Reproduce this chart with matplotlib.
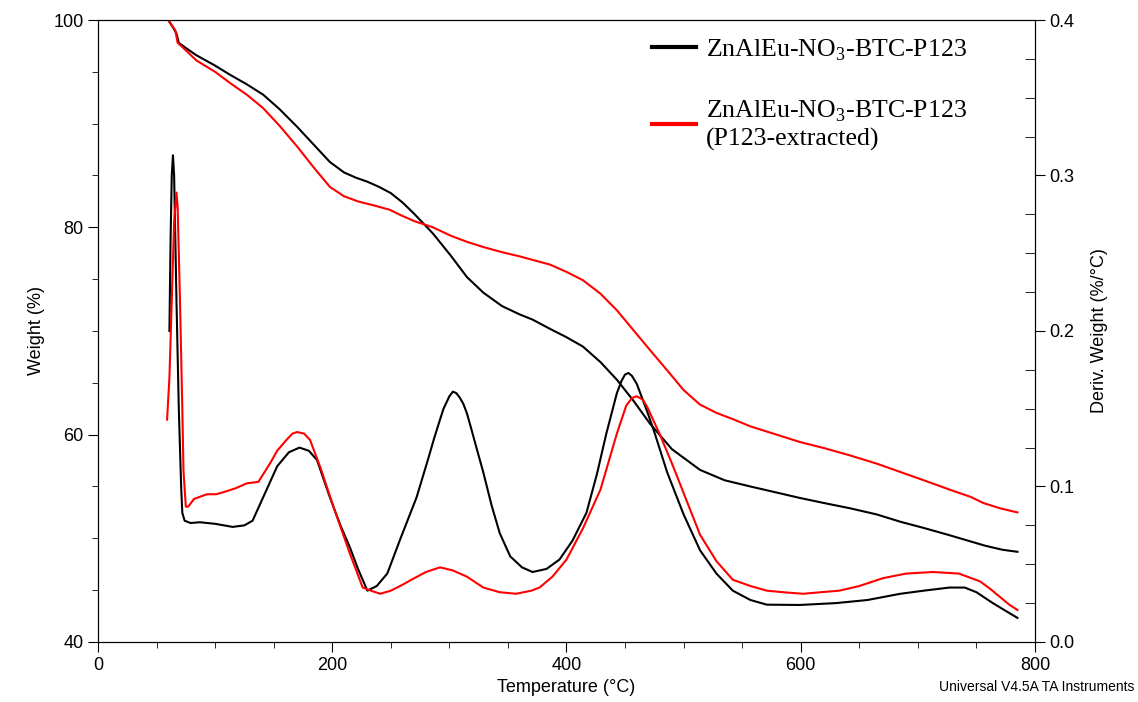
# TGA / DTG curves
import numpy as np
import matplotlib.pyplot as plt
from matplotlib.ticker import MultipleLocator

# Weight (%) curves
t_w_black = [56, 60, 64, 67, 69, 75, 84, 100, 113, 127, 141, 155, 170, 184, 198, 210, 220, 230, 240, 250,
             260, 270, 286, 301, 315, 329, 345, 360, 371, 386, 400, 414, 429, 443, 457, 471, 490, 514, 535,
             557, 580, 599, 620, 642, 665, 685, 705, 727, 745, 757, 772, 785]
w_black = [100.4, 100.0, 99.3, 98.7, 97.8, 97.3, 96.6, 95.6, 94.7, 93.8, 92.8, 91.4, 89.7, 88.0, 86.3, 85.3,
           84.8, 84.4, 83.9, 83.3, 82.4, 81.3, 79.4, 77.3, 75.2, 73.7, 72.4, 71.6, 71.1, 70.2, 69.4, 68.5,
           67.0, 65.3, 63.3, 61.1, 58.6, 56.6, 55.6, 55.0, 54.4, 53.9, 53.4, 52.9, 52.3, 51.6, 51.0, 50.3,
           49.7, 49.3, 48.9, 48.7]

t_w_red = [56, 60, 63, 66, 68, 72, 84, 100, 113, 127, 141, 155, 170, 184, 198, 210, 222, 236, 249, 258,
           270, 286, 301, 315, 329, 345, 360, 373, 386, 400, 414, 429, 443, 457, 471, 486, 500, 514, 528,
           542, 557, 571, 585, 599, 620, 642, 665, 685, 705, 727, 745, 756, 770, 785]
w_red = [100.4, 100.0, 99.5, 99.0, 97.8, 97.4, 96.1, 95.0, 93.9, 92.8, 91.5, 89.8, 87.8, 85.8, 83.9, 83.0,
         82.5, 82.1, 81.7, 81.2, 80.6, 80.0, 79.2, 78.6, 78.1, 77.6, 77.2, 76.8, 76.4, 75.7, 74.9, 73.6,
         72.0, 70.1, 68.2, 66.2, 64.3, 62.9, 62.1, 61.5, 60.8, 60.3, 59.8, 59.3, 58.7, 58.0, 57.2, 56.4,
         55.6, 54.7, 54.0, 53.4, 52.9, 52.5]

# Deriv. weight (%/°C) curves
t_d_black = [61, 62, 63, 64, 65, 67, 69, 71, 72, 74, 79, 87, 100, 115, 125, 132, 141, 153, 163, 172, 180,
             187, 198, 207, 215, 222, 230, 238, 247, 258, 272, 282, 287, 292, 295, 300, 303, 306, 309, 312,
             315, 318, 322, 329, 336, 343, 352, 362, 371, 383, 394, 405, 417, 426, 434, 443, 447, 450, 453,
             456, 460, 463, 469, 475, 486, 500, 514, 528, 542, 557, 571, 599, 630, 657, 685, 705, 727, 740,
             750, 764, 775, 785]
d_black = [0.200, 0.260, 0.300, 0.313, 0.300, 0.220, 0.150, 0.100, 0.083, 0.078, 0.0765, 0.077, 0.076,
           0.074, 0.075, 0.078, 0.093, 0.113, 0.122, 0.125, 0.123, 0.117, 0.093, 0.075, 0.061, 0.047, 0.033,
           0.036, 0.044, 0.066, 0.093, 0.118, 0.131, 0.143, 0.150, 0.158, 0.161, 0.160, 0.157, 0.153, 0.147,
           0.139, 0.128, 0.109, 0.088, 0.070, 0.055, 0.048, 0.045, 0.047, 0.053, 0.065, 0.083, 0.108, 0.134,
           0.160, 0.168, 0.172, 0.173, 0.171, 0.166, 0.160, 0.148, 0.135, 0.109, 0.082, 0.059, 0.044, 0.033,
           0.027, 0.024, 0.0238, 0.025, 0.027, 0.031, 0.033, 0.035, 0.035, 0.032, 0.025, 0.020, 0.0155]

t_d_red = [59, 61, 63, 65, 67, 68, 70, 72, 73, 75, 77, 82, 93, 101, 110, 118, 127, 137, 147, 153, 161, 166,
           170, 176, 181, 190, 201, 208, 215, 221, 226, 233, 241, 250, 258, 270, 280, 292, 303, 315, 329,
           343, 357, 370, 377, 388, 400, 414, 429, 443, 451, 456, 460, 465, 469, 480, 491, 503, 514, 528,
           542, 557, 571, 585, 602, 617, 633, 650, 670, 690, 713, 735, 753, 762, 770, 778, 785]
d_red = [0.143, 0.170, 0.220, 0.270, 0.289, 0.280, 0.220, 0.150, 0.110, 0.087, 0.087, 0.092, 0.095, 0.095,
         0.097, 0.099, 0.102, 0.103, 0.115, 0.123, 0.130, 0.134, 0.135, 0.134, 0.130, 0.112, 0.087, 0.072,
         0.057, 0.045, 0.035, 0.033, 0.031, 0.033, 0.036, 0.041, 0.045, 0.048, 0.046, 0.042, 0.035, 0.032,
         0.031, 0.033, 0.035, 0.042, 0.053, 0.073, 0.098, 0.134, 0.152, 0.157, 0.158, 0.156, 0.151, 0.133,
         0.113, 0.090, 0.069, 0.052, 0.040, 0.036, 0.033, 0.032, 0.031, 0.032, 0.033, 0.036, 0.041, 0.044,
         0.045, 0.044, 0.039, 0.034, 0.029, 0.024, 0.0206]

label_1 = 'ZnAlEu-NO$_3$-BTC-P123'
label_2 = 'ZnAlEu-NO$_3$-BTC-P123\n(P123-extracted)'

plt.rcParams['font.family'] = 'Liberation Sans'
plt.rcParams['mathtext.fontset'] = 'custom'
plt.rcParams['mathtext.rm'] = 'Liberation Serif'

fig = plt.figure(figsize=(11.38, 7.02), dpi=100)
ax = fig.add_axes([0.0861, 0.0855, 0.8234, 0.886])
ax2 = ax.twinx()

ax.plot(t_w_black, w_black, color='black', lw=1.5, label=label_1)
ax.plot(t_w_red, w_red, color='red', lw=1.5, label=label_2)
ax2.plot(t_d_black, d_black, color='black', lw=1.5)
ax2.plot(t_d_red, d_red, color='red', lw=1.5)

ax.set_xlim(0, 800)
ax.set_ylim(40, 100)
ax2.set_ylim(0, 0.4)

ax.xaxis.set_major_locator(MultipleLocator(200))
ax.xaxis.set_minor_locator(MultipleLocator(50))
ax.yaxis.set_major_locator(MultipleLocator(20))
ax.yaxis.set_minor_locator(MultipleLocator(5))
ax2.yaxis.set_major_locator(MultipleLocator(0.1))
ax2.yaxis.set_minor_locator(MultipleLocator(0.025))
ax2.yaxis.set_major_formatter(plt.FormatStrFormatter('%.1f'))

ax.tick_params(which='major', direction='out', length=7, labelsize=13)
ax.tick_params(which='minor', direction='out', length=4)
ax2.tick_params(which='major', direction='out', length=7, labelsize=13)
ax2.tick_params(which='minor', direction='in', length=7)

ax.set_xlabel('Temperature (°C)', fontsize=13, labelpad=4)
ax.set_ylabel('Weight (%)', fontsize=13, labelpad=6)
ax2.set_ylabel('Deriv. Weight (%/°C)', fontsize=13, labelpad=12)

leg = ax.legend(loc='upper left', bbox_to_anchor=(0.566, 1.01), frameon=False,
                prop={'family': 'Liberation Serif', 'size': 18.6}, handlelength=1.7,
                handletextpad=0.4, labelspacing=1.4)
for line in leg.get_lines():
    line.set_linewidth(3)

fig.text(0.997, 0.012, 'Universal V4.5A TA Instruments', ha='right', va='bottom', fontsize=10)

plt.savefig('out.png', dpi=100)
